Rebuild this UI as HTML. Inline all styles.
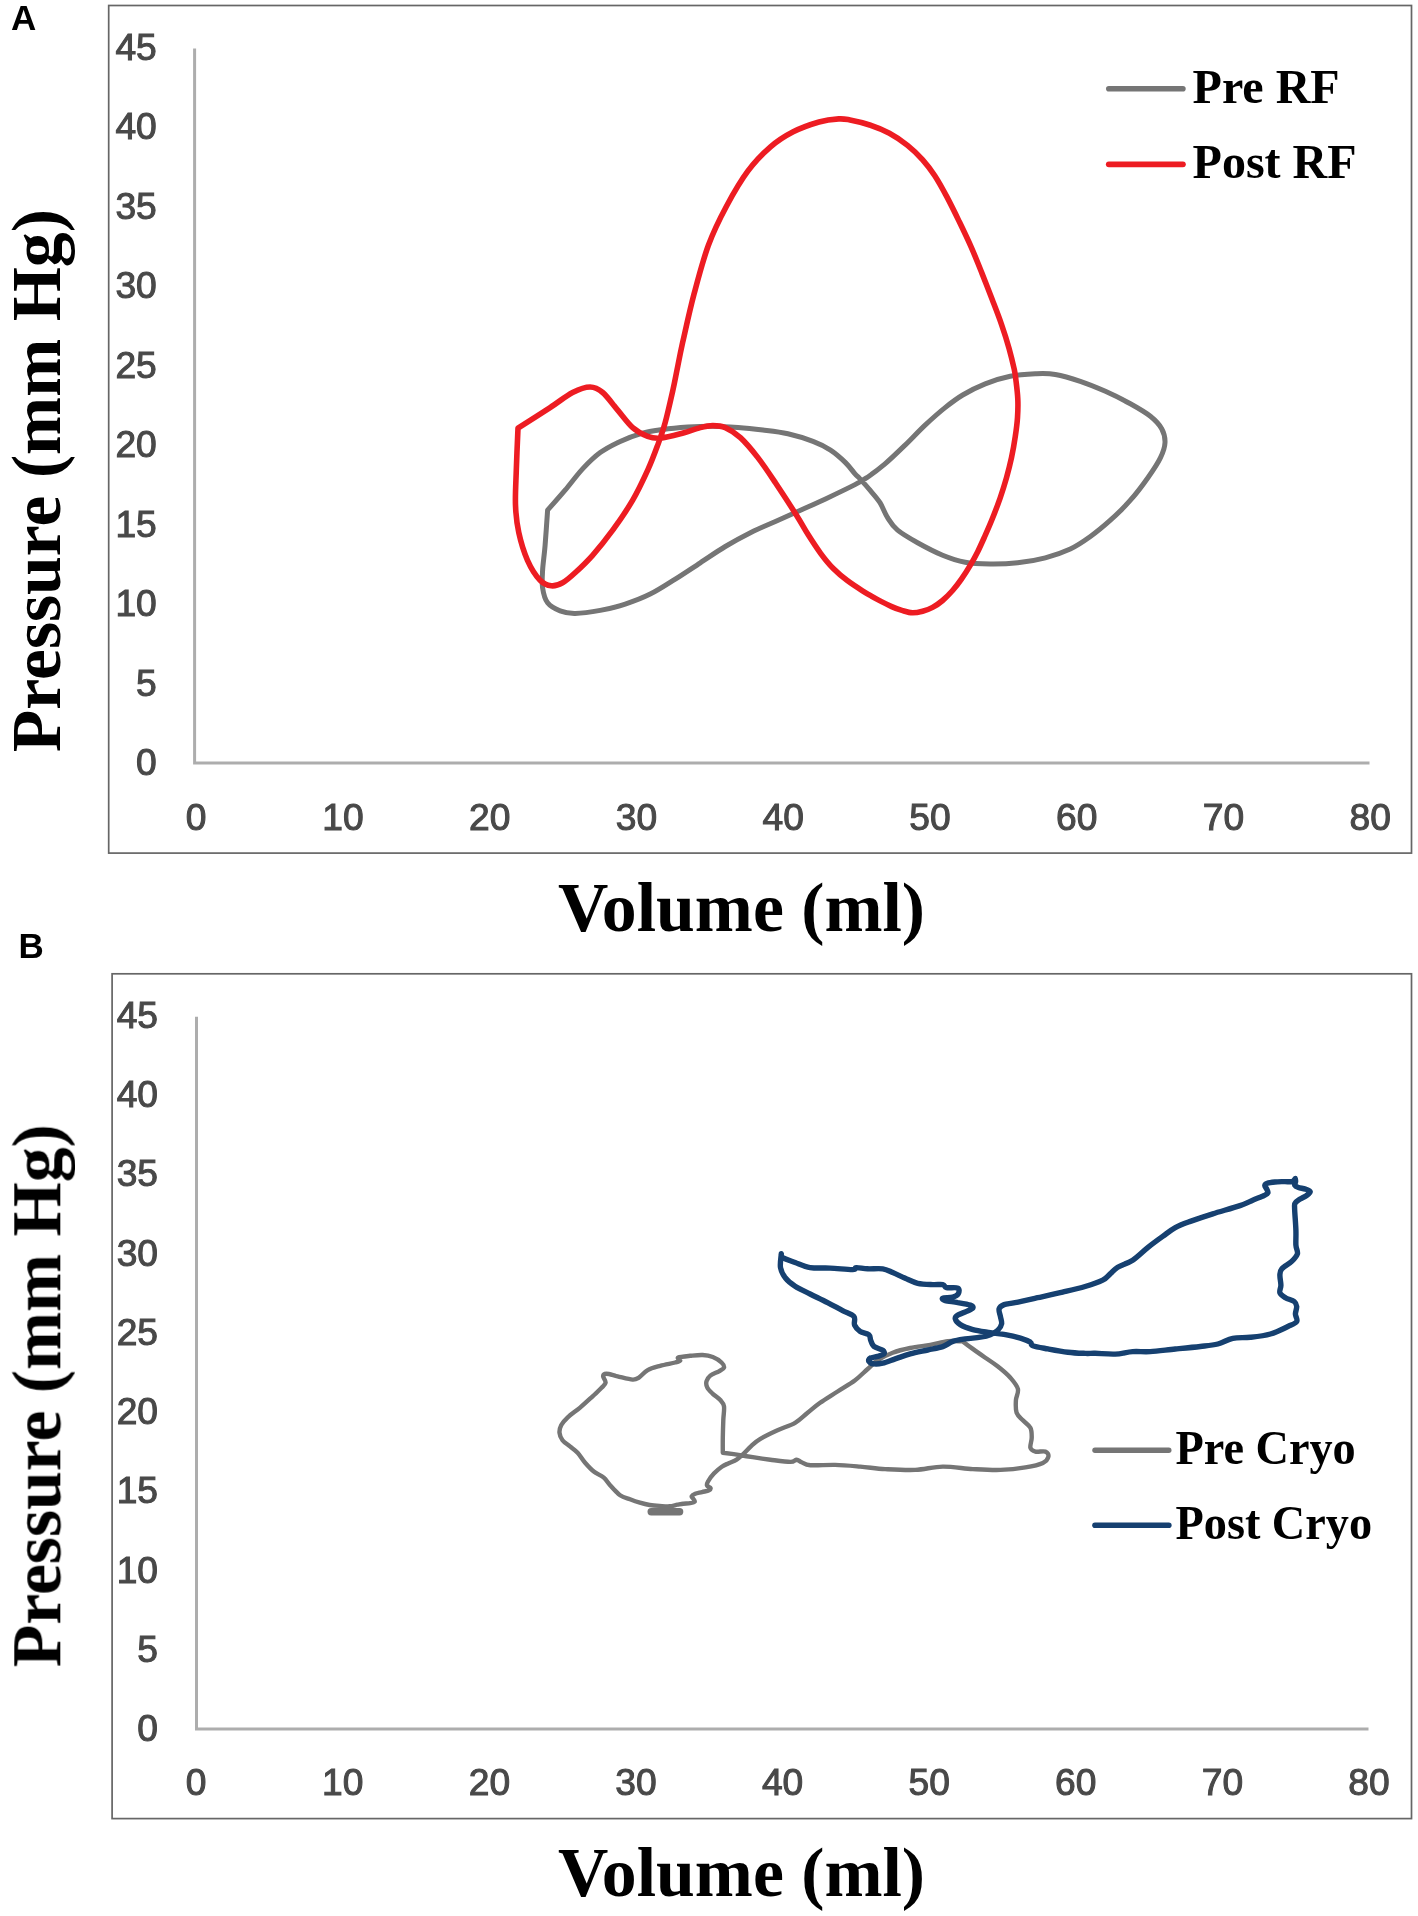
<!DOCTYPE html>
<html><head><meta charset="utf-8"><title>PV loops</title>
<style>
html,body{margin:0;padding:0;background:#fff;}
body{width:1418px;height:1916px;overflow:hidden;}
svg{display:block;position:absolute;left:0;top:0;}
.tk text{font-family:"Liberation Sans",sans-serif;font-size:37.2px;fill:#484848;stroke:#484848;stroke-width:1.05px;}
.ttl{font-family:"Liberation Serif",serif;font-weight:bold;font-size:69.7px;fill:#000;}
.lg{font-family:"Liberation Serif",serif;font-weight:bold;font-size:48px;fill:#000;}
.pl{font-family:"Liberation Sans",sans-serif;font-weight:bold;font-size:35px;fill:#000;}
.c{fill:none;stroke-linecap:round;stroke-linejoin:round;}
</style></head><body>
<svg width="1418" height="1916" viewBox="0 0 1418 1916">
<defs><filter id="soft" x="0" y="0" width="1418" height="1916" filterUnits="userSpaceOnUse"><feGaussianBlur stdDeviation="0.7"/></filter></defs>
<rect width="1418" height="1916" fill="#fff"/>
<g filter="url(#soft)">
<rect x="108.7" y="5.5" width="1302.8" height="847.6" fill="#fff" stroke="#666666" stroke-width="1.7"/>
<path d="M194.6 48.5V763.1H1369.5" fill="none" stroke="#adadad" stroke-width="3"/>
<g class="tk" text-anchor="end">
<text x="156.8" y="59.8">45</text>
<text x="156.8" y="139.3">40</text>
<text x="156.8" y="218.8">35</text>
<text x="156.8" y="298.3">30</text>
<text x="156.8" y="377.8">25</text>
<text x="156.8" y="457.4">20</text>
<text x="156.8" y="536.9">15</text>
<text x="156.8" y="616.4">10</text>
<text x="156.8" y="695.9">5</text>
<text x="156.8" y="775.4">0</text>
</g>
<g class="tk" text-anchor="middle">
<text x="196.2" y="830.2">0</text>
<text x="342.9" y="830.2">10</text>
<text x="489.7" y="830.2">20</text>
<text x="636.5" y="830.2">30</text>
<text x="783.2" y="830.2">40</text>
<text x="930.0" y="830.2">50</text>
<text x="1076.7" y="830.2">60</text>
<text x="1223.5" y="830.2">70</text>
<text x="1370.2" y="830.2">80</text>
</g>
<rect x="112.1" y="973.8" width="1299.4" height="844.8" fill="#fff" stroke="#666666" stroke-width="1.7"/>
<path d="M196.5 1016.8V1729.1H1368.5" fill="none" stroke="#adadad" stroke-width="3"/>
<g class="tk" text-anchor="end">
<text x="158.0" y="1027.8">45</text>
<text x="158.0" y="1107.1">40</text>
<text x="158.0" y="1186.3">35</text>
<text x="158.0" y="1265.6">30</text>
<text x="158.0" y="1344.9">25</text>
<text x="158.0" y="1424.1">20</text>
<text x="158.0" y="1503.4">15</text>
<text x="158.0" y="1582.7">10</text>
<text x="158.0" y="1661.9">5</text>
<text x="158.0" y="1741.2">0</text>
</g>
<g class="tk" text-anchor="middle">
<text x="196.2" y="1795.4">0</text>
<text x="342.8" y="1795.4">10</text>
<text x="489.4" y="1795.4">20</text>
<text x="636.0" y="1795.4">30</text>
<text x="782.6" y="1795.4">40</text>
<text x="929.2" y="1795.4">50</text>
<text x="1075.8" y="1795.4">60</text>
<text x="1222.4" y="1795.4">70</text>
<text x="1369.0" y="1795.4">80</text>
</g>
<path class="c" stroke="#747474" stroke-width="5" d="M547.6 510.2C550.5 506.9 559.3 497.1 565.1 490.2C570.9 483.3 576.8 475.2 582.6 468.9C588.5 462.6 593.9 457.2 600.2 452.6C606.5 448.0 613.5 444.5 620.2 441.4C626.9 438.3 633.1 435.8 640.2 433.8C647.3 431.8 654.8 430.7 662.7 429.6C670.6 428.5 679.4 427.7 687.8 427.1C696.1 426.6 704.4 426.2 712.8 426.3C721.1 426.4 729.5 427.0 737.9 427.6C746.2 428.2 754.6 429.1 762.9 430.1C771.2 431.1 779.5 431.9 787.9 433.8C796.2 435.7 805.9 438.7 813.0 441.4C820.1 444.1 825.1 446.6 830.5 450.1C835.9 453.6 841.4 458.6 845.5 462.6C849.6 466.6 852.6 471.2 855.0 473.9C857.4 476.6 857.5 476.2 860.0 478.9C862.5 481.6 866.7 486.2 870.0 490.2C873.3 494.2 877.1 498.1 880.0 502.7C882.9 507.3 884.7 513.1 887.6 517.7C890.5 522.3 892.6 526.0 897.6 530.2C902.6 534.4 910.1 538.6 917.6 542.8C925.1 547.0 934.7 552.0 942.6 555.3C950.5 558.5 957.3 560.8 965.2 562.3C973.1 563.8 981.5 563.9 990.2 564.0C999.0 564.1 1008.5 563.8 1017.7 562.8C1026.9 561.8 1036.5 560.1 1045.3 557.8C1054.1 555.5 1062.8 552.5 1070.3 549.0C1077.8 545.5 1083.7 541.3 1090.4 536.5C1097.1 531.7 1103.7 526.2 1110.4 520.2C1117.1 514.2 1124.2 507.3 1130.4 500.2C1136.7 493.1 1142.9 484.8 1147.9 477.7C1152.9 470.6 1157.7 463.5 1160.5 457.6C1163.3 451.8 1164.8 447.4 1165.0 442.6C1165.2 437.8 1164.1 433.2 1161.7 428.8C1159.3 424.4 1155.6 420.5 1150.4 416.3C1145.2 412.1 1137.9 408.0 1130.4 403.8C1122.9 399.6 1113.8 395.1 1105.4 391.3C1097.1 387.6 1088.7 384.1 1080.3 381.3C1071.9 378.5 1062.8 375.8 1055.3 374.5C1047.8 373.2 1042.8 373.5 1035.3 373.8C1027.8 374.1 1018.6 374.6 1010.2 376.3C1001.9 378.0 993.1 380.7 985.2 383.8C977.3 386.9 969.4 391.0 962.7 395.0C956.0 399.0 951.4 402.6 945.1 407.6C938.8 412.6 931.8 418.9 925.1 425.1C918.4 431.4 911.8 438.6 905.1 445.1C898.4 451.6 891.3 458.5 885.0 463.9C878.7 469.2 872.5 473.8 867.5 477.2C862.5 480.6 862.0 481.0 855.0 484.6C848.0 488.2 834.6 494.6 825.5 498.9C816.4 503.2 808.9 506.4 800.5 510.2C792.1 514.0 783.8 517.8 775.4 521.5C767.0 525.2 758.8 528.5 750.4 532.7C742.0 536.9 733.6 541.5 725.3 546.5C716.9 551.5 708.6 557.4 700.3 562.8C692.0 568.2 683.6 573.9 675.3 579.1C666.9 584.3 658.6 589.9 650.2 594.1C641.9 598.3 633.5 601.4 625.2 604.1C616.9 606.8 608.6 608.9 600.2 610.4C591.9 611.9 581.8 613.3 575.1 613.4C568.4 613.5 564.7 612.7 560.1 610.9C555.5 609.1 550.5 606.6 547.6 602.8C544.7 598.9 543.4 593.2 542.6 587.8C541.8 582.4 542.2 577.4 542.6 570.3C543.0 563.2 544.3 555.3 545.1 545.3C545.9 535.3 547.2 516.0 547.6 510.2Z"/>
<path class="c" stroke="#ed1c24" stroke-width="5.6" d="M518.0 428.1C523.4 424.7 541.0 413.5 550.1 407.6C559.2 401.7 565.9 395.9 572.6 392.5C579.3 389.1 585.1 387.0 590.1 387.0C595.1 387.0 598.1 388.6 602.7 392.5C607.3 396.4 612.7 404.2 617.7 410.1C622.7 416.0 627.7 423.2 632.7 427.6C637.7 432.0 643.1 434.6 647.7 436.3C652.3 438.1 654.8 438.5 660.2 438.1C665.6 437.7 673.6 435.6 680.3 433.8C687.0 432.1 694.9 429.0 700.3 427.6C705.7 426.2 708.6 425.6 712.8 425.6C717.0 425.6 720.7 425.6 725.3 427.6C729.9 429.6 735.0 432.6 740.4 437.6C745.8 442.6 752.1 450.1 757.9 457.6C763.7 465.1 769.0 473.1 775.4 482.7C781.8 492.3 791.1 506.6 796.5 515.2C801.9 523.8 803.9 527.9 807.9 534.3C811.9 540.6 816.4 547.6 820.6 553.3C824.8 559.0 828.8 564.0 833.3 568.5C837.8 573.0 842.4 576.9 847.3 580.6C852.2 584.3 857.4 587.6 862.5 590.8C867.6 594.0 872.8 597.0 877.7 599.6C882.6 602.2 887.7 604.8 891.7 606.6C895.7 608.4 898.4 609.4 901.9 610.4C905.4 611.4 909.0 612.7 912.5 612.8C916.0 612.9 919.2 612.1 922.6 611.2C926.0 610.3 929.3 609.2 932.6 607.4C935.9 605.6 939.3 603.3 942.6 600.5C945.9 597.7 949.5 594.0 952.6 590.5C955.7 587.0 958.5 583.4 961.4 579.2C964.3 575.0 967.5 570.0 970.2 565.4C972.9 560.8 975.2 556.7 977.7 551.7C980.2 546.7 982.7 541.0 985.2 535.4C987.7 529.8 990.2 524.1 992.7 517.8C995.2 511.5 997.9 504.5 1000.2 497.8C1002.5 491.1 1004.6 484.4 1006.5 477.7C1008.4 471.0 1010.0 464.6 1011.5 457.7C1013.0 450.8 1014.3 443.1 1015.3 436.4C1016.3 429.7 1017.1 423.9 1017.5 417.6C1017.9 411.3 1018.1 405.1 1017.8 398.8C1017.5 392.5 1016.5 384.9 1015.9 380.0C1015.3 375.1 1015.4 374.8 1014.3 369.5C1013.1 364.2 1011.1 355.9 1009.0 348.3C1006.9 340.7 1004.2 332.2 1001.4 324.1C998.6 316.0 995.6 308.4 992.3 299.8C989.0 291.2 985.2 281.4 981.7 272.6C978.2 263.8 974.9 255.5 971.1 246.9C967.3 238.3 963.0 229.4 959.0 221.1C955.0 212.8 950.9 204.5 946.9 196.9C942.9 189.3 938.8 181.9 934.8 175.7C930.8 169.5 927.2 164.9 922.7 159.8C918.2 154.8 913.0 149.8 907.5 145.4C902.0 141.0 895.7 136.7 889.4 133.3C883.1 129.9 876.3 127.2 869.7 125.0C863.1 122.8 855.2 121.0 850.0 120.0C844.8 119.0 843.9 118.6 838.7 118.9C833.5 119.2 826.6 119.8 819.0 122.0C811.4 124.2 801.3 127.7 793.2 131.8C785.1 136.0 778.1 140.3 770.5 146.9C762.9 153.5 755.1 161.3 747.8 171.2C740.5 181.0 733.2 193.7 726.6 206.0C720.0 218.3 713.8 230.7 708.4 245.3C703.0 259.9 698.4 277.7 694.1 293.8C689.8 309.9 685.6 329.5 682.7 342.2C679.9 354.9 678.6 362.0 677.0 370.0C675.4 378.0 674.9 381.3 672.9 390.1C670.9 398.9 667.7 413.4 665.2 422.6C662.7 431.8 660.6 437.2 657.7 445.1C654.8 453.0 651.9 461.0 647.7 470.2C643.5 479.4 638.5 490.2 632.7 500.2C626.9 510.2 619.4 521.0 612.7 530.2C606.0 539.4 598.9 548.2 592.6 555.3C586.3 562.4 580.1 568.2 575.1 572.8C570.1 577.4 566.6 580.6 562.6 582.8C558.6 585.0 555.0 586.2 551.3 585.8C547.5 585.4 544.1 584.5 540.1 580.3C536.1 576.0 531.0 568.2 527.5 560.3C524.0 552.4 520.8 541.9 518.8 532.7C516.8 523.5 515.9 515.6 515.5 505.2C515.1 494.8 515.9 483.0 516.3 470.2C516.7 457.4 517.7 435.1 518.0 428.1Z"/>
<path class="c" stroke="#747474" stroke-width="4.4" d="M669.5 1506.3C666.5 1506.5 662.9 1506.1 659.6 1505.9C656.3 1505.7 653.0 1505.5 649.7 1505.0C646.4 1504.5 643.2 1503.7 639.9 1502.7C636.6 1501.7 633.3 1500.5 630.0 1499.2C626.7 1498.0 623.4 1497.5 620.1 1495.2C616.8 1492.9 612.8 1488.1 610.1 1485.2C607.4 1482.3 606.5 1480.0 603.8 1477.7C601.1 1475.4 596.9 1474.0 593.8 1471.5C590.7 1469.0 587.8 1465.8 585.1 1462.7C582.4 1459.6 580.1 1455.4 577.6 1452.7C575.1 1450.0 572.5 1448.5 570.0 1446.4C567.5 1444.3 564.2 1442.5 562.5 1440.2C560.8 1437.9 559.7 1435.2 559.5 1432.7C559.3 1430.2 560.0 1427.6 561.3 1425.1C562.6 1422.6 564.4 1420.5 567.5 1417.6C570.6 1414.7 575.9 1411.1 580.1 1407.6C584.3 1404.0 589.1 1399.5 592.6 1396.3C596.1 1393.0 599.1 1390.4 601.3 1388.1C603.5 1385.8 605.3 1384.6 605.6 1382.6C605.9 1380.6 603.0 1377.8 603.1 1376.3C603.2 1374.8 604.0 1373.8 606.4 1373.8C608.8 1373.8 613.2 1375.3 617.6 1376.3C622.0 1377.3 629.1 1379.4 632.6 1379.6C636.1 1379.8 636.4 1379.2 638.9 1377.6C641.4 1376.0 644.2 1372.1 647.7 1370.1C651.2 1368.1 655.6 1367.1 660.2 1365.8C664.8 1364.5 671.9 1363.4 675.2 1362.5C678.5 1361.6 679.7 1361.3 680.2 1360.5C680.7 1359.7 676.5 1358.3 678.2 1357.5C679.9 1356.7 686.1 1356.2 690.2 1355.8C694.3 1355.4 698.9 1354.8 702.7 1355.0C706.5 1355.2 709.7 1355.8 712.8 1357.0C715.9 1358.2 719.6 1360.7 721.5 1362.5C723.4 1364.3 724.4 1366.1 724.0 1367.6C723.6 1369.1 721.3 1370.0 719.0 1371.3C716.7 1372.6 712.4 1373.9 710.3 1375.6C708.2 1377.3 707.0 1379.3 706.5 1381.3C706.0 1383.3 706.2 1385.5 707.3 1387.6C708.3 1389.7 710.6 1391.7 712.8 1393.8C715.0 1395.9 718.4 1398.0 720.3 1400.1C722.2 1402.2 723.5 1403.1 724.0 1406.4C724.5 1409.7 723.5 1414.9 723.3 1420.1C723.1 1425.3 722.9 1432.3 722.8 1437.7C722.7 1443.1 722.8 1450.2 722.8 1452.7C724.9 1453.0 730.3 1453.7 735.3 1454.4C740.3 1455.2 747.0 1456.3 752.8 1457.2C758.6 1458.1 764.0 1458.9 770.3 1459.7C776.6 1460.5 786.0 1461.9 790.4 1461.9C794.8 1461.9 794.7 1459.7 796.6 1459.7C798.5 1459.8 799.3 1461.3 801.6 1462.2C803.9 1463.1 804.8 1464.8 810.4 1465.2C816.0 1465.7 826.8 1464.7 835.1 1464.9C843.4 1465.1 851.9 1465.9 860.2 1466.6C868.6 1467.3 876.0 1468.5 885.2 1469.1C894.4 1469.6 905.6 1470.3 915.2 1469.9C924.8 1469.5 933.2 1466.7 942.8 1466.6C952.4 1466.5 963.2 1468.5 972.8 1469.1C982.4 1469.6 991.6 1470.2 1000.4 1469.9C1009.2 1469.6 1018.3 1468.6 1025.4 1467.4C1032.5 1466.2 1039.1 1464.7 1042.9 1462.9C1046.7 1461.1 1048.0 1458.5 1048.4 1456.6C1048.8 1454.7 1047.6 1452.4 1045.4 1451.6C1043.2 1450.8 1037.9 1452.2 1035.4 1451.6C1032.9 1451.0 1031.0 1450.1 1030.4 1447.8C1029.8 1445.5 1031.7 1441.1 1031.7 1437.8C1031.7 1434.5 1031.9 1430.7 1030.4 1427.8C1028.9 1424.9 1025.2 1422.8 1022.9 1420.3C1020.6 1417.8 1017.8 1416.1 1016.6 1412.8C1015.4 1409.5 1015.7 1404.3 1015.9 1400.3C1016.1 1396.3 1018.8 1392.8 1017.9 1389.0C1017.0 1385.2 1013.7 1381.5 1010.4 1377.7C1007.1 1374.0 1002.1 1369.8 997.9 1366.5C993.7 1363.2 989.5 1360.6 985.3 1357.7C981.1 1354.8 976.5 1351.6 972.8 1348.9C969.0 1346.2 964.5 1342.7 962.8 1341.4C960.3 1341.4 953.2 1340.6 947.8 1341.2C942.4 1341.8 936.6 1343.7 930.3 1344.8C924.0 1345.9 916.5 1346.7 910.2 1348.0C903.9 1349.3 898.1 1350.7 892.7 1352.7C887.3 1354.7 881.9 1357.5 877.7 1360.2C873.5 1362.9 871.5 1365.7 867.7 1369.0C863.9 1372.3 860.1 1376.5 855.1 1380.2C850.1 1384.0 843.4 1387.7 837.6 1391.5C831.8 1395.3 825.1 1399.2 820.1 1402.8C815.1 1406.3 811.8 1409.5 807.6 1412.8C803.4 1416.1 800.1 1419.9 795.1 1422.8C790.1 1425.7 783.4 1427.6 777.5 1430.3C771.6 1433.0 764.4 1436.5 760.0 1439.1C755.6 1441.7 754.1 1443.5 751.4 1445.9C748.6 1448.4 746.0 1451.5 743.5 1453.8C741.0 1456.1 739.1 1458.1 736.6 1459.7C734.1 1461.3 731.2 1462.0 728.7 1463.2C726.2 1464.4 724.3 1465.0 721.8 1466.7C719.3 1468.4 716.2 1471.1 713.9 1473.6C711.6 1476.1 709.1 1479.5 708.0 1481.5C706.9 1483.5 706.6 1484.3 707.0 1485.4C707.4 1486.5 710.2 1487.1 710.5 1487.9C710.8 1488.7 710.4 1489.6 709.0 1490.3C707.6 1491.0 704.4 1491.5 702.1 1492.1C699.8 1492.7 696.9 1493.1 695.2 1493.8C693.5 1494.5 692.0 1495.5 691.7 1496.3C691.4 1497.1 692.7 1497.8 693.2 1498.7C693.7 1499.6 695.2 1501.0 694.7 1501.7C694.2 1502.5 692.1 1502.9 690.2 1503.2C688.3 1503.5 685.4 1503.5 683.3 1503.7C681.2 1504.0 679.7 1504.3 677.4 1504.7C675.1 1505.1 672.5 1506.1 669.5 1506.3Z"/>
<path class="c" stroke="#747474" stroke-width="7.4" d="M651.2 1511.8H679.6"/>
<path class="c" stroke="#123f6f" stroke-width="5.4" d="M781.3 1253.8C781.5 1254.4 780.2 1256.0 782.5 1257.5C784.8 1259.0 790.5 1260.8 795.1 1262.5C799.7 1264.2 804.3 1266.7 810.1 1267.6C815.9 1268.5 823.0 1267.8 830.1 1268.1C837.2 1268.4 848.2 1269.7 852.6 1269.6C857.0 1269.5 853.9 1267.7 856.4 1267.6C858.9 1267.5 863.3 1268.6 867.7 1268.8C872.1 1269.0 878.5 1268.2 882.7 1268.8C886.9 1269.4 889.0 1271.0 892.7 1272.6C896.5 1274.2 901.0 1276.5 905.2 1278.3C909.4 1280.1 913.1 1282.2 917.7 1283.3C922.3 1284.3 928.6 1284.4 932.8 1284.6C937.0 1284.8 940.5 1284.1 942.8 1284.6C945.1 1285.1 944.0 1287.0 946.5 1287.6C949.0 1288.2 955.8 1287.1 957.8 1288.1C959.8 1289.1 959.1 1292.3 958.3 1293.8C957.5 1295.3 955.4 1296.4 952.8 1297.1C950.2 1297.8 944.0 1297.5 942.8 1298.1C941.5 1298.7 942.8 1299.8 945.3 1300.6C947.8 1301.3 953.6 1301.8 957.8 1302.6C962.0 1303.3 967.8 1304.2 970.3 1305.1C972.8 1306.0 973.4 1307.0 972.8 1308.1C972.2 1309.1 969.1 1310.2 966.6 1311.4C964.1 1312.6 959.7 1313.8 957.8 1315.1C955.9 1316.3 954.9 1317.3 955.3 1318.9C955.7 1320.5 957.4 1322.8 960.3 1324.6C963.2 1326.4 967.8 1328.2 972.8 1329.6C977.8 1330.9 984.9 1331.8 990.3 1332.7C995.7 1333.6 1000.4 1333.8 1005.4 1334.7C1010.4 1335.6 1016.2 1337.0 1020.4 1338.2C1024.6 1339.5 1028.3 1341.0 1030.4 1342.2C1032.5 1343.5 1030.0 1344.6 1032.9 1345.7C1035.8 1346.8 1042.1 1347.8 1047.9 1348.9C1053.8 1350.0 1061.7 1351.5 1068.0 1352.2C1074.3 1353.0 1081.0 1353.2 1085.5 1353.4C1090.0 1353.6 1090.1 1353.2 1095.1 1353.3C1100.0 1353.4 1108.9 1354.4 1115.2 1354.1C1121.5 1353.8 1126.9 1352.0 1132.7 1351.6C1138.5 1351.2 1143.1 1352.0 1150.2 1351.6C1157.3 1351.2 1167.0 1349.8 1175.3 1349.0C1183.6 1348.2 1193.2 1347.3 1200.3 1346.5C1207.4 1345.7 1212.4 1345.4 1217.8 1344.0C1223.2 1342.6 1227.4 1339.4 1232.8 1338.3C1238.2 1337.2 1244.1 1338.0 1250.4 1337.3C1256.7 1336.6 1264.2 1335.8 1270.4 1334.0C1276.7 1332.2 1283.5 1328.6 1287.9 1326.5C1292.3 1324.4 1295.5 1323.6 1296.7 1321.5C1298.0 1319.4 1295.4 1316.5 1295.4 1314.0C1295.4 1311.5 1296.9 1308.6 1296.7 1306.5C1296.5 1304.4 1296.1 1303.0 1294.2 1301.5C1292.3 1300.0 1287.8 1299.2 1285.4 1297.7C1283.0 1296.2 1280.7 1294.8 1279.9 1292.7C1279.2 1290.6 1280.9 1288.1 1280.9 1285.2C1280.9 1282.3 1279.8 1277.9 1279.9 1275.2C1280.0 1272.5 1279.7 1271.2 1281.7 1268.9C1283.7 1266.6 1289.1 1263.9 1291.7 1261.4C1294.3 1258.9 1296.7 1256.6 1297.4 1253.9C1298.1 1251.2 1296.2 1249.1 1295.9 1245.1C1295.7 1241.1 1296.1 1236.2 1295.9 1230.1C1295.7 1223.9 1294.7 1212.7 1294.6 1208.2C1294.5 1203.7 1294.3 1204.6 1295.2 1203.1C1296.1 1201.6 1297.8 1200.6 1299.7 1199.3C1301.6 1198.0 1304.8 1196.8 1306.6 1195.5C1308.3 1194.2 1310.4 1192.8 1310.2 1191.7C1310.0 1190.6 1307.4 1189.8 1305.4 1189.1C1303.4 1188.4 1300.2 1188.1 1298.4 1187.5C1296.6 1186.9 1295.3 1186.3 1294.8 1185.3C1294.3 1184.3 1295.5 1182.6 1295.6 1181.5C1295.7 1180.4 1295.3 1179.1 1295.2 1178.6C1294.7 1179.1 1293.8 1181.1 1292.0 1181.6C1290.2 1182.1 1287.2 1181.5 1284.4 1181.6C1281.6 1181.7 1277.8 1181.7 1274.9 1182.0C1272.1 1182.3 1269.0 1182.7 1267.3 1183.3C1265.6 1183.9 1264.9 1184.5 1264.8 1185.5C1264.7 1186.5 1266.2 1187.9 1266.7 1189.1C1267.2 1190.3 1268.3 1191.8 1267.9 1192.9C1267.5 1194.0 1266.6 1194.3 1264.1 1195.5C1261.6 1196.7 1256.7 1198.5 1252.7 1200.2C1248.7 1201.9 1246.7 1203.3 1240.0 1205.6C1233.3 1207.9 1221.1 1211.2 1212.8 1213.8C1204.5 1216.4 1196.5 1219.1 1190.3 1221.4C1184.0 1223.7 1179.9 1225.1 1175.3 1227.6C1170.7 1230.1 1167.3 1233.1 1162.7 1236.4C1158.1 1239.7 1152.7 1243.6 1147.7 1247.6C1142.7 1251.6 1137.7 1256.9 1132.7 1260.2C1127.7 1263.5 1121.5 1264.9 1117.7 1267.2C1114.0 1269.5 1112.7 1271.7 1110.2 1273.9C1107.7 1276.1 1106.9 1278.1 1102.7 1280.2C1098.5 1282.3 1091.8 1284.5 1085.1 1286.5C1078.4 1288.5 1070.5 1290.3 1062.6 1292.2C1054.7 1294.1 1045.5 1296.0 1037.6 1297.7C1029.7 1299.5 1020.6 1301.6 1015.0 1302.7C1009.4 1303.8 1006.8 1303.6 1004.1 1304.6C1001.5 1305.6 999.7 1306.9 999.1 1308.9C998.5 1310.9 1000.0 1313.9 1000.4 1316.4C1000.8 1318.9 1002.0 1321.6 1001.6 1323.9C1001.2 1326.2 999.8 1328.3 997.9 1330.1C996.0 1331.9 993.2 1333.5 990.3 1334.7C987.4 1335.9 984.5 1336.5 980.3 1337.2C976.1 1337.9 969.9 1338.2 965.3 1338.9C960.7 1339.6 956.5 1340.1 952.8 1341.4C949.0 1342.7 947.0 1345.2 942.8 1346.6C938.6 1348.0 933.1 1348.8 927.7 1350.0C922.3 1351.2 915.6 1352.4 910.2 1353.9C904.8 1355.4 899.8 1357.4 895.2 1358.9C890.6 1360.5 886.2 1362.4 882.7 1363.2C879.2 1364.0 876.2 1364.2 873.9 1363.9C871.6 1363.6 869.5 1362.4 868.9 1361.4C868.3 1360.5 868.7 1359.0 870.2 1358.2C871.7 1357.4 875.4 1357.1 877.7 1356.4C880.0 1355.7 883.1 1354.9 883.9 1353.9C884.7 1352.9 884.4 1351.5 882.7 1350.2C881.0 1349.0 875.9 1348.1 873.9 1346.4C871.9 1344.7 871.5 1342.2 870.7 1340.2C869.9 1338.2 870.6 1336.2 868.9 1334.7C867.1 1333.2 862.6 1333.0 860.2 1331.4C857.8 1329.8 855.7 1327.6 854.6 1325.1C853.5 1322.6 855.9 1318.8 853.9 1316.4C851.9 1314.0 847.0 1312.9 842.6 1310.6C838.2 1308.3 833.0 1305.4 827.6 1302.6C822.2 1299.8 815.5 1296.7 810.1 1294.0C804.7 1291.3 799.2 1288.9 795.1 1286.2C791.0 1283.5 787.9 1281.1 785.5 1278.0C783.1 1274.9 781.2 1271.6 780.5 1267.6C779.8 1263.6 781.2 1256.1 781.3 1253.8Z"/>
<path class="c" stroke="#747474" stroke-width="5.6" d="M1108.8 88.8H1182.9"/>
<path class="c" stroke="#ed1c24" stroke-width="5.8" d="M1108.8 164.3H1182.9"/>
<text class="lg" x="1192.6" y="102.8">Pre RF</text>
<text class="lg" x="1192.6" y="177.8">Post RF</text>
<path class="c" stroke="#747474" stroke-width="5.4" d="M1095 1450.2H1168.8"/>
<path class="c" stroke="#123f6f" stroke-width="5.6" d="M1095 1525.3H1168.8"/>
<text class="lg" transform="translate(1175.5 1464.2) scale(.964 1)">Pre Cryo</text>
<text class="lg" transform="translate(1175.5 1539.1) scale(.964 1)">Post Cryo</text>
<text class="ttl" x="741.5" y="931.2" text-anchor="middle">Volume (ml)</text>
<text class="ttl" x="741.5" y="1896.4" text-anchor="middle">Volume (ml)</text>
<text class="ttl" transform="translate(60.3 480.7) rotate(-90)" text-anchor="middle">Pressure (mm Hg)</text>
<text class="ttl" transform="translate(60.3 1395.7) rotate(-90)" text-anchor="middle">Pressure (mm Hg)</text>
<text class="pl" x="10.9" y="30">A</text>
<text class="pl" x="18.6" y="958">B</text>
</g></svg></body></html>
